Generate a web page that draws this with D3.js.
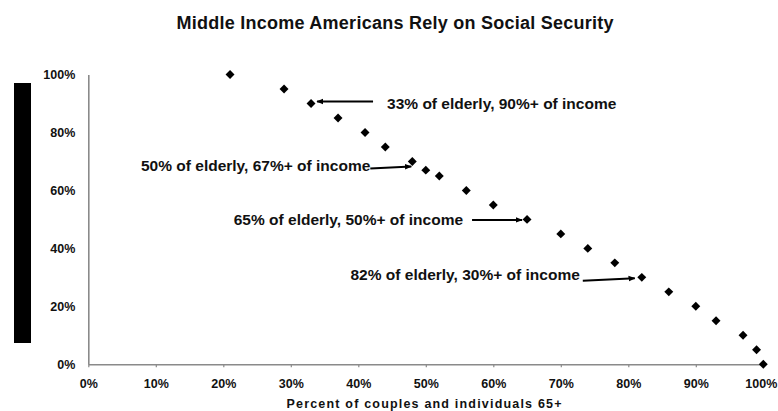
<!DOCTYPE html>
<html>
<head>
<meta charset="utf-8">
<script src="https://cdn.jsdelivr.net/npm/d3@7"></script>
<style>
  html, body { margin: 0; padding: 0; background: #fff; }
  svg { display: block; font-family: "Liberation Sans", Arial, sans-serif; }
</style>
</head>
<body>
<svg id="chart" width="778" height="411"></svg>
<script>
// ---- data ----
const titleText = "Middle Income Americans Rely on Social Security";
const xAxisTitle = "Percent of couples and individuals 65+";
const xTicks = [0, 0.1, 0.2, 0.3, 0.4, 0.5, 0.6, 0.7, 0.8, 0.9, 1.0];
const yTicks = [0, 0.2, 0.4, 0.6, 0.8, 1.0];
// share of elderly (x) vs share of income from Social Security (y)
const pctElderly = [0.21, 0.29, 0.33, 0.37, 0.41, 0.44, 0.48, 0.50, 0.52, 0.56, 0.60, 0.65, 0.70, 0.74, 0.78, 0.82, 0.86, 0.90, 0.93, 0.97, 0.99, 1.00];
const pctIncome  = [1.00, 0.95, 0.90, 0.85, 0.80, 0.75, 0.70, 0.67, 0.65, 0.60, 0.55, 0.50, 0.45, 0.40, 0.35, 0.30, 0.25, 0.20, 0.15, 0.10, 0.05, 0.00];
const annLabels  = ["33% of elderly, 90%+ of income", "50% of elderly, 67%+ of income", "65% of elderly, 50%+ of income", "82% of elderly, 30%+ of income"];
const annX = [0.33, 0.48, 0.65, 0.82];
const annY = [0.90, 0.70, 0.50, 0.30];

// ---- layout ----
const svg = d3.select("#chart");
const x = d3.scaleLinear().domain([0, 1]).range([88.3, 763.3]);
const y = d3.scaleLinear().domain([0, 1]).range([364.3, 74.5]);
const fmt = d3.format(".0%");
const axisColor = "#8a8a8a";

// black bar at left
svg.append("rect").attr("x", 14).attr("y", 83).attr("width", 17).attr("height", 260).attr("fill", "#000");

// title
svg.append("text").attr("x", 395).attr("y", 29).attr("text-anchor", "middle")
  .attr("font-size", 18).attr("font-weight", "bold").attr("fill", "#111")
  .attr("textLength", 437).attr("lengthAdjust", "spacing")
  .text(titleText);

// x axis
const gx = svg.append("g").attr("transform", `translate(0,${y(0)})`)
  .call(d3.axisBottom(x).tickValues(xTicks).tickFormat(fmt).tickSizeInner(3).tickSizeOuter(0).tickPadding(12));
gx.select(".domain").attr("stroke", axisColor).attr("stroke-width", 1.6);
gx.selectAll(".tick line").attr("stroke", axisColor).attr("stroke-width", 1.2);
gx.selectAll(".tick text").attr("font-size", 12.5).attr("font-weight", "bold").attr("fill", "#111")
  .attr("font-family", "Liberation Sans, Arial, sans-serif");
// keep the last label inside the frame
gx.selectAll(".tick text").filter(d => d === 1).attr("text-anchor", "end").attr("x", 13.5);

// y axis
const gy = svg.append("g").attr("transform", `translate(${x(0)},0)`)
  .call(d3.axisLeft(y).tickValues(yTicks).tickFormat(fmt).tickSizeInner(0).tickSizeOuter(0).tickPadding(13));
gy.select(".domain").attr("stroke", axisColor).attr("stroke-width", 1.6);
gy.selectAll(".tick text").attr("font-size", 12.5).attr("font-weight", "bold").attr("fill", "#111")
  .attr("font-family", "Liberation Sans, Arial, sans-serif");

// x axis title
svg.append("text").attr("x", 424).attr("y", 408).attr("text-anchor", "middle")
  .attr("font-size", 12.5).attr("font-weight", "bold").attr("fill", "#111")
  .attr("textLength", 275).attr("lengthAdjust", "spacing")
  .text(xAxisTitle);

// points
const diamond = d3.symbol().type(d3.symbolSquare).size(40);
svg.append("g").selectAll("path").data(pctElderly.map((v, i) => [v, pctIncome[i]])).join("path")
  .attr("d", diamond)
  .attr("transform", d => `translate(${x(d[0])},${y(d[1])}) rotate(45)`)
  .attr("fill", "#000");

// annotations: text placement and arrow geometry relative to target point
const annLayout = [
  { tx: 76,   ty: 6,   anchor: "start", x1: 62,   y1: -2,  x2: 6,   y2: -2 },
  { tx: -42,  ty: 10,  anchor: "end",   x1: -42,  y1: 7,   x2: -1,  y2: 5 },
  { tx: -64,  ty: 6,   anchor: "end",   x1: -55,  y1: 0.5, x2: -5,  y2: 0.5 },
  { tx: -62,  ty: 3,   anchor: "end",   x1: -59,  y1: 3.3, x2: -7,  y2: 1 }
];
const defs = svg.append("defs");
defs.append("marker").attr("id", "ah").attr("viewBox", "0 0 10 10").attr("refX", 9).attr("refY", 5)
  .attr("markerWidth", 7).attr("markerHeight", 7).attr("markerUnits", "userSpaceOnUse").attr("orient", "auto")
  .append("path").attr("d", "M0,1 L10,5 L0,9 Z").attr("fill", "#000");

const ann = svg.append("g");
annLabels.forEach((lab, i) => {
  const px = x(annX[i]), py = y(annY[i]), L = annLayout[i];
  ann.append("text").attr("x", px + L.tx).attr("y", py + L.ty).attr("text-anchor", L.anchor)
    .attr("font-size", 15.5).attr("font-weight", "bold").attr("fill", "#111").text(lab);
  ann.append("line").attr("x1", px + L.x1).attr("y1", py + L.y1).attr("x2", px + L.x2).attr("y2", py + L.y2)
    .attr("stroke", "#000").attr("stroke-width", 2).attr("marker-end", "url(#ah)");
});
</script>
</body>
</html>
